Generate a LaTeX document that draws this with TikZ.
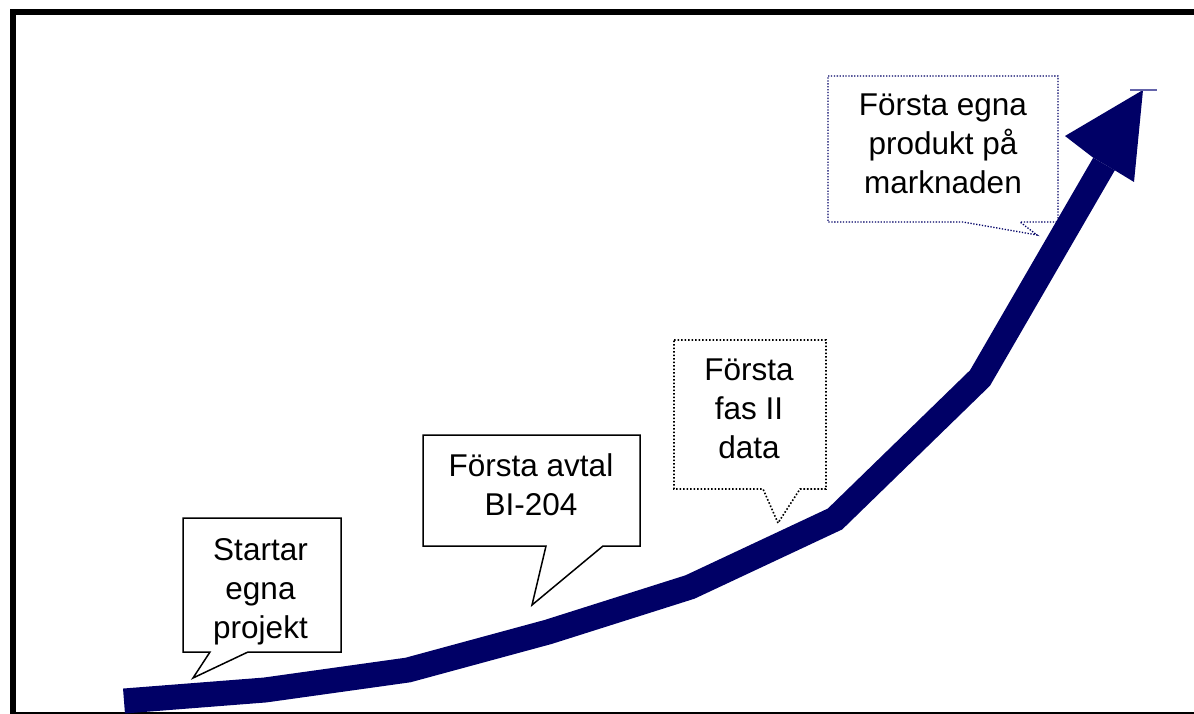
\documentclass[tikz,border=0pt]{standalone}
\usepackage{fontspec}
\setmainfont{Liberation Sans}
\begin{document}
\begin{tikzpicture}[x=1pt,y=-1pt,
  growth/.style={line width=25pt,draw=navyblue,line join=miter,line cap=butt},
  solidcall/.style={draw=black,line width=1.5pt,line join=miter},
  dotcall/.style={draw=black,line width=1.6pt,dash pattern=on 1.6pt off 1.9pt},
  navycall/.style={draw=navyblue,line width=1.3pt,dash pattern=on 1.3pt off 1.6pt},
  label/.style={align=center,inner sep=0pt,font=\fontsize{31.5}{39}\selectfont}]
\definecolor{navyblue}{RGB}{0,0,102}
\definecolor{tipline}{RGB}{100,100,170}
\useasboundingbox (0,0) rectangle (1194,714);
\fill[white] (0,0) rectangle (1194,714);

% frame: heavy left and top rules, thin bottom rule
\draw[line width=6pt,line join=miter] (13,716) -- (13,12) -- (1196,12);
\draw[line width=2pt] (13,713) -- (1196,713);

% callout outlines
\draw[solidcall] (183,518) -- (341,518) -- (341,652) -- (248,652) -- (193,678) -- (210,652) -- (183,652) -- cycle;
\draw[solidcall] (423,435) -- (640,435) -- (640,546) -- (603,546) -- (532,605) -- (546,546) -- (423,546) -- cycle;
\draw[dotcall] (674,340) -- (826,340) -- (826,489) -- (800,489) -- (778,523) -- (763,489) -- (674,489) -- cycle;
\draw[navycall] (828,76) -- (1058,76) -- (1058,222) -- (1020,222) -- (1037,235) -- (963,222) -- (828,222) -- cycle;

% callout texts
\node[label] (start) at (260.5,592) {Startar\\egna\\projekt};
\node[label] (avtal) at (531,485) {Första avtal\\BI-204};
\node[label] (fas) at (749,409) {Första\\fas II\\data};
\node[label] (produkt) at (943,144) {Första egna\\produkt på\\marknaden};

% growth arrow
\draw[growth] (124,701) -- (265,690) -- (408,670) -- (548,632) -- (690,587) -- (835,519) -- (980,378) -- (1104,164);
\fill[navyblue] (1143,90) -- (1134,182) -- (1114.8,170.3) -- (1093.2,157.7) -- (1065,136) -- cycle;
\draw[tipline,line width=1.5pt] (1130,90) -- (1157,90);
\end{tikzpicture}
\end{document}
